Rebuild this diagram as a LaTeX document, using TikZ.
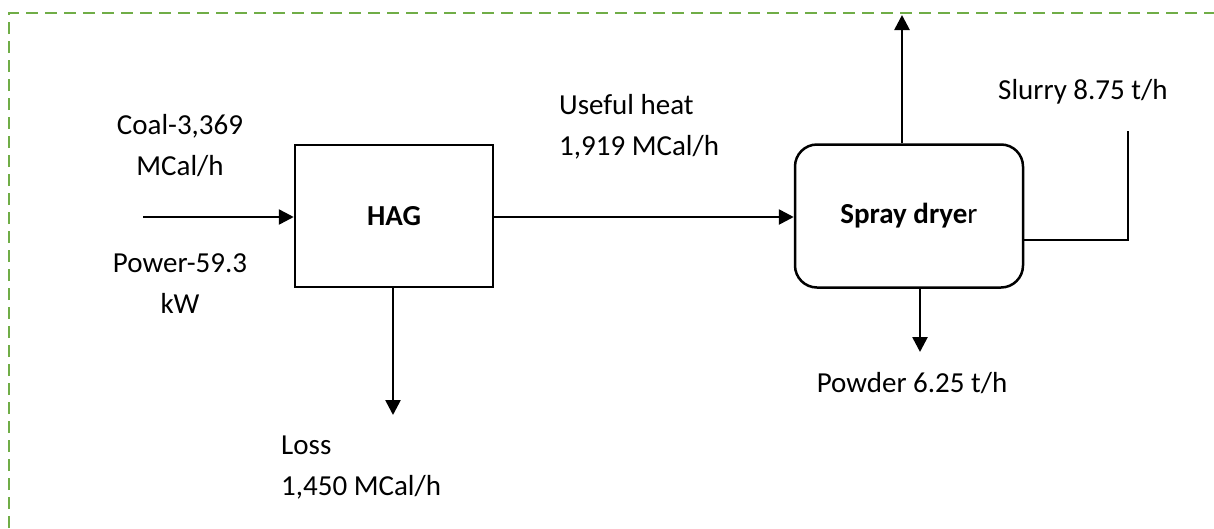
\documentclass[tikz,border=0pt]{standalone}
\usepackage{fontspec}
\setmainfont{Carlito}
\usetikzlibrary{arrows.meta,calc}
\definecolor{bordergreen}{HTML}{70AD47}
\begin{document}
\begin{tikzpicture}[x=1pt,y=-1pt,
  every node/.style={font=\fontsize{29}{41}\selectfont},
  unitbox/.style={draw=black,line width=2.5pt,minimum width=198pt,minimum height=142pt,inner sep=0pt},
  roundbox/.style={unitbox,rounded corners=22pt,minimum width=228pt,minimum height=143pt},
  flow/.style={line width=2.6pt,-{Triangle[length=15pt,width=15pt]}},
  plainline/.style={line width=2.6pt},
  lbl/.style={align=center,inner sep=0pt},
  lbll/.style={align=left,inner sep=0pt,anchor=west},
  frame/.style={draw=bordergreen,line width=2.5pt,dash pattern=on 12pt off 7pt}]
\useasboundingbox (0,0) rectangle (1214,528);
\draw[frame] (9,528) -- (9,13) -- (1214,13);

\node[unitbox] (hag) at (394,216) {\textbf{HAG}};
\node[roundbox] (sd) at (909,216) {\textbf{Spray drye}r};

\coordinate (coal) at (143,217);
\coordinate (lossend) at (393,415);
\coordinate (topend) at (902,15);
\coordinate (powend) at (920,352);
\coordinate (slc) at (1128,240);
\coordinate (sltop) at (1128,131);

\draw[flow] (coal) -- (hag.west |- coal);
\draw[flow] (hag.east |- coal) -- (sd.west |- coal);
\draw[flow] (hag.south -| lossend) -- (lossend);
\draw[flow] (sd.north -| topend) -- (topend);
\draw[flow] (sd.south -| powend) -- (powend);
\draw[plainline] (sd.east |- slc) -- (slc) -- (sltop);

\node[lbl] (coallbl) at (180,146) {Coal-3,369\\MCal/h};
\node[lbl] (powlbl) at (180,284) {Power-59.3\\kW};
\node[lbll] (uselbl) at (559,127) {Useful heat\\1,919 MCal/h};
\node[lbll] (losslbl) at (281,468) {Loss\\1,450 MCal/h};
\node[lbll] (slurlbl) at (998,92) {Slurry 8.75 t/h};
\node[lbl] (powdlbl) at (912,383) {Powder 6.25 t/h};
\end{tikzpicture}
\end{document}
